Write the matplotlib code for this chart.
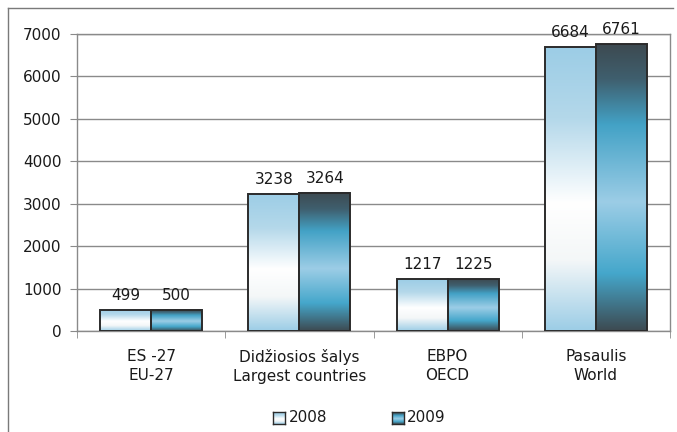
import numpy as np
import matplotlib.pyplot as plt
from matplotlib.colors import LinearSegmentedColormap
from matplotlib.lines import Line2D

plt.rcParams['font.family'] = ['DejaVu Sans']

categories = ["ES -27\nEU-27", "Didžiosios šalys\nLargest countries", "EBPO\nOECD", "Pasaulis\nWorld"]
years = ["2008", "2009"]
values_2008 = [499, 3238, 1217, 6684]
values_2009 = [500, 3264, 1225, 6761]

# per-bar vertical gradients (top -> bottom)
cmap_2008 = LinearSegmentedColormap.from_list(
    "g2008", [(0.0, "#9ccde6"), (0.25, "#b4d8ea"), (0.55, "#ffffff"), (0.75, "#f4f7f8"), (1.0, "#9ccde6")])
cmap_2009 = LinearSegmentedColormap.from_list(
    "g2009", [(0.0, "#3d4a51"), (0.12, "#3f5f6e"), (0.28, "#43a2c6"), (0.55, "#9ccde6"), (0.8, "#45a7cb"), (1.0, "#3d4a51")])

fig = plt.figure(figsize=(6.77, 4.32), dpi=100)
ax = fig.add_axes([77/677, (432-331)/432, (670-77)/677, (331-34)/432])

w = 0.344
x = np.arange(len(categories))
grad = np.linspace(0, 1, 256).reshape(-1, 1)

for vals, cmap, off in [(values_2008, cmap_2008, -w/2), (values_2009, cmap_2009, w/2)]:
    bars = ax.bar(x + off, vals, width=w, facecolor="none", edgecolor="#2b2b2b", linewidth=1.4, zorder=4)
    for b, v in zip(bars, vals):
        x0 = b.get_x()
        ax.imshow(grad, cmap=cmap, aspect="auto", extent=(x0, x0 + w, 0, v), zorder=3, interpolation="bilinear")
        ax.annotate(f"{v}", (x0 + w/2, v), xytext=(0, 5), textcoords="offset points",
                    ha="center", va="bottom", fontsize=11, color="#1a1a1a", zorder=6)

ax.set_xlim(-0.5, 3.5)
ax.set_ylim(0, 7000)
ax.set_yticks(np.arange(0, 7001, 1000))
ax.yaxis.grid(True, color="#8a8a8a", linewidth=1.0, zorder=0)
ax.set_axisbelow(True)
ax.set_xticks(x)
ax.set_xticklabels(categories, fontsize=11, linespacing=1.32, color="#1a1a1a")
ax.set_xticks(np.arange(-0.5, 3.6, 1), minor=True)
ax.tick_params(axis="x", which="major", length=0, pad=13)
ax.tick_params(axis="x", which="minor", length=5, color="#8a8a8a", direction="out")
ax.tick_params(axis="y", length=5, color="#8a8a8a", labelsize=11, labelcolor="#1a1a1a", pad=6)
for s in ax.spines.values():
    s.set_color("#8a8a8a")
    s.set_linewidth(1.0)

# legend drawn by hand so the swatches carry the gradients
for lx, tx, cmap, label in [(273, 289, cmap_2008, years[0]), (392, 407, cmap_2009, years[1])]:
    sw = fig.add_axes([lx/677, (432-424)/432, 12/677, 12/432])
    sw.imshow(grad, cmap=cmap, aspect="auto", interpolation="bilinear")
    sw.set_xticks([]); sw.set_yticks([])
    for s in sw.spines.values():
        s.set_color("#2b2b2b"); s.set_linewidth(1.0)
    fig.text(tx/677, (432-418)/432, label, fontsize=11, va="center", ha="left", color="#1a1a1a")

# outer chart frame (top and left edges visible)
fig.add_artist(Line2D([8/677, 673/677], [(432-8)/432]*2, color="#7a7a7a", linewidth=1.0))
fig.add_artist(Line2D([8/677, 8/677], [(432-8)/432, 0], color="#7a7a7a", linewidth=1.0))

fig.savefig("out.png", dpi=100)
